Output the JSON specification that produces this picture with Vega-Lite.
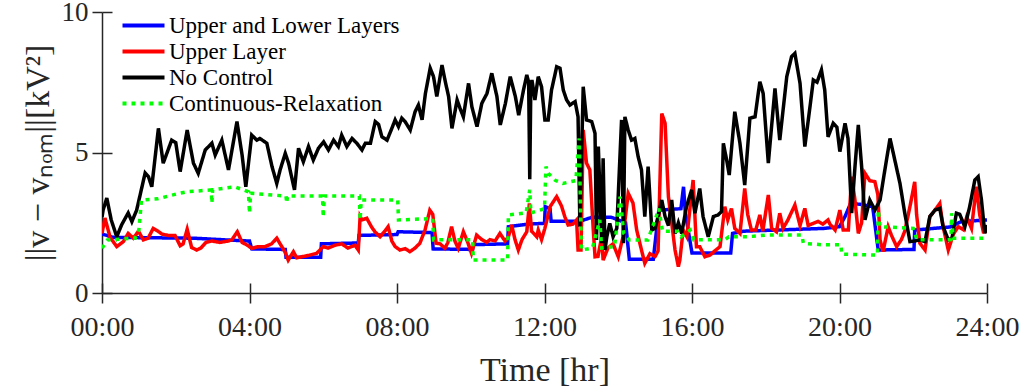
{
  "$schema": "https://vega.github.io/schema/vega-lite/v6.json",
  "width": 885,
  "height": 281,
  "autosize": {"type": "none"},
  "padding": {"left": 102, "top": 12, "right": 44, "bottom": 97},
  "background": "white",
  "config": {
    "view": {"stroke": null},
    "font": "Liberation Serif",
    "axis": {"domainColor": "#262626", "domainWidth": 1.5, "tickColor": "#262626", "tickWidth": 1.5, "labelColor": "#262626", "titleColor": "#262626", "grid": false, "labelFont": "Liberation Serif", "titleFont": "Liberation Serif", "titleFontWeight": "normal", "labelFlush": false}
  },
  "data": {"values": [
    {"series": "Upper and Lower Layers", "t": 0.0, "v": 2.1},
    {"series": "Upper and Lower Layers", "t": 0.3, "v": 1.98},
    {"series": "Upper and Lower Layers", "t": 2.5, "v": 1.95},
    {"series": "Upper and Lower Layers", "t": 3.5, "v": 1.88},
    {"series": "Upper and Lower Layers", "t": 4.0, "v": 1.85},
    {"series": "Upper and Lower Layers", "t": 4.06, "v": 1.57},
    {"series": "Upper and Lower Layers", "t": 4.97, "v": 1.55},
    {"series": "Upper and Lower Layers", "t": 4.99, "v": 1.27},
    {"series": "Upper and Lower Layers", "t": 5.93, "v": 1.27},
    {"series": "Upper and Lower Layers", "t": 5.95, "v": 1.75},
    {"series": "Upper and Lower Layers", "t": 6.95, "v": 1.78},
    {"series": "Upper and Lower Layers", "t": 6.97, "v": 2.05},
    {"series": "Upper and Lower Layers", "t": 8.0, "v": 2.08},
    {"series": "Upper and Lower Layers", "t": 8.03, "v": 2.18},
    {"series": "Upper and Lower Layers", "t": 8.95, "v": 2.15},
    {"series": "Upper and Lower Layers", "t": 8.98, "v": 1.57},
    {"series": "Upper and Lower Layers", "t": 10.05, "v": 1.55},
    {"series": "Upper and Lower Layers", "t": 10.07, "v": 1.72},
    {"series": "Upper and Lower Layers", "t": 11.0, "v": 1.75},
    {"series": "Upper and Lower Layers", "t": 11.02, "v": 2.36},
    {"series": "Upper and Lower Layers", "t": 11.55, "v": 2.45},
    {"series": "Upper and Lower Layers", "t": 12.0, "v": 2.48},
    {"series": "Upper and Lower Layers", "t": 12.02, "v": 3.07},
    {"series": "Upper and Lower Layers", "t": 12.15, "v": 3.0},
    {"series": "Upper and Lower Layers", "t": 12.18, "v": 2.55},
    {"series": "Upper and Lower Layers", "t": 12.95, "v": 2.55},
    {"series": "Upper and Lower Layers", "t": 13.3, "v": 2.7},
    {"series": "Upper and Lower Layers", "t": 13.8, "v": 2.7},
    {"series": "Upper and Lower Layers", "t": 14.2, "v": 2.5},
    {"series": "Upper and Lower Layers", "t": 14.3, "v": 1.2},
    {"series": "Upper and Lower Layers", "t": 14.95, "v": 1.2},
    {"series": "Upper and Lower Layers", "t": 15.1, "v": 2.95},
    {"series": "Upper and Lower Layers", "t": 15.7, "v": 3.0},
    {"series": "Upper and Lower Layers", "t": 15.77, "v": 3.78},
    {"series": "Upper and Lower Layers", "t": 15.82, "v": 2.84},
    {"series": "Upper and Lower Layers", "t": 16.0, "v": 1.42},
    {"series": "Upper and Lower Layers", "t": 17.05, "v": 1.42},
    {"series": "Upper and Lower Layers", "t": 17.1, "v": 2.12},
    {"series": "Upper and Lower Layers", "t": 17.4, "v": 2.2},
    {"series": "Upper and Lower Layers", "t": 19.6, "v": 2.3},
    {"series": "Upper and Lower Layers", "t": 20.0, "v": 2.36},
    {"series": "Upper and Lower Layers", "t": 20.15, "v": 2.72},
    {"series": "Upper and Lower Layers", "t": 20.3, "v": 3.19},
    {"series": "Upper and Lower Layers", "t": 20.6, "v": 3.15},
    {"series": "Upper and Lower Layers", "t": 20.9, "v": 3.07},
    {"series": "Upper and Lower Layers", "t": 21.05, "v": 1.53},
    {"series": "Upper and Lower Layers", "t": 22.02, "v": 1.55},
    {"series": "Upper and Lower Layers", "t": 22.04, "v": 2.24},
    {"series": "Upper and Lower Layers", "t": 23.0, "v": 2.35},
    {"series": "Upper and Lower Layers", "t": 23.3, "v": 2.54},
    {"series": "Upper and Lower Layers", "t": 24.0, "v": 2.6},

    {"series": "Upper Layer", "t": 0.0, "v": 2.12},
    {"series": "Upper Layer", "t": 0.08, "v": 2.67},
    {"series": "Upper Layer", "t": 0.22, "v": 1.98},
    {"series": "Upper Layer", "t": 0.4, "v": 1.65},
    {"series": "Upper Layer", "t": 0.58, "v": 1.83},
    {"series": "Upper Layer", "t": 0.71, "v": 2.12},
    {"series": "Upper Layer", "t": 0.85, "v": 1.95},
    {"series": "Upper Layer", "t": 0.99, "v": 2.2},
    {"series": "Upper Layer", "t": 1.12, "v": 1.89},
    {"series": "Upper Layer", "t": 1.25, "v": 1.95},
    {"series": "Upper Layer", "t": 1.39, "v": 2.3},
    {"series": "Upper Layer", "t": 1.52, "v": 2.2},
    {"series": "Upper Layer", "t": 1.62, "v": 2.1},
    {"series": "Upper Layer", "t": 1.79, "v": 2.05},
    {"series": "Upper Layer", "t": 1.98, "v": 2.05},
    {"series": "Upper Layer", "t": 2.12, "v": 1.68},
    {"series": "Upper Layer", "t": 2.2, "v": 1.75},
    {"series": "Upper Layer", "t": 2.31, "v": 2.27},
    {"series": "Upper Layer", "t": 2.43, "v": 1.62},
    {"series": "Upper Layer", "t": 2.57, "v": 1.53},
    {"series": "Upper Layer", "t": 2.68, "v": 1.6},
    {"series": "Upper Layer", "t": 2.82, "v": 1.8},
    {"series": "Upper Layer", "t": 2.98, "v": 1.85},
    {"series": "Upper Layer", "t": 3.2, "v": 1.8},
    {"series": "Upper Layer", "t": 3.42, "v": 1.85},
    {"series": "Upper Layer", "t": 3.52, "v": 1.89},
    {"series": "Upper Layer", "t": 3.67, "v": 2.18},
    {"series": "Upper Layer", "t": 3.8, "v": 1.8},
    {"series": "Upper Layer", "t": 3.93, "v": 1.71},
    {"series": "Upper Layer", "t": 4.06, "v": 1.59},
    {"series": "Upper Layer", "t": 4.23, "v": 1.65},
    {"series": "Upper Layer", "t": 4.42, "v": 1.65},
    {"series": "Upper Layer", "t": 4.6, "v": 1.75},
    {"series": "Upper Layer", "t": 4.74, "v": 1.95},
    {"series": "Upper Layer", "t": 4.83, "v": 1.75},
    {"series": "Upper Layer", "t": 4.96, "v": 1.47},
    {"series": "Upper Layer", "t": 5.05, "v": 1.17},
    {"series": "Upper Layer", "t": 5.19, "v": 1.47},
    {"series": "Upper Layer", "t": 5.28, "v": 1.25},
    {"series": "Upper Layer", "t": 5.46, "v": 1.3},
    {"series": "Upper Layer", "t": 5.64, "v": 1.35},
    {"series": "Upper Layer", "t": 5.82, "v": 1.41},
    {"series": "Upper Layer", "t": 6.0, "v": 1.65},
    {"series": "Upper Layer", "t": 6.13, "v": 1.6},
    {"series": "Upper Layer", "t": 6.32, "v": 1.7},
    {"series": "Upper Layer", "t": 6.5, "v": 1.75},
    {"series": "Upper Layer", "t": 6.67, "v": 1.6},
    {"series": "Upper Layer", "t": 6.86, "v": 1.7},
    {"series": "Upper Layer", "t": 6.95, "v": 1.53},
    {"series": "Upper Layer", "t": 7.0, "v": 2.72},
    {"series": "Upper Layer", "t": 7.05, "v": 2.6},
    {"series": "Upper Layer", "t": 7.18, "v": 2.66},
    {"series": "Upper Layer", "t": 7.31, "v": 2.35},
    {"series": "Upper Layer", "t": 7.4, "v": 2.18},
    {"series": "Upper Layer", "t": 7.54, "v": 2.0},
    {"series": "Upper Layer", "t": 7.67, "v": 2.2},
    {"series": "Upper Layer", "t": 7.76, "v": 2.36},
    {"series": "Upper Layer", "t": 7.86, "v": 1.85},
    {"series": "Upper Layer", "t": 7.95, "v": 1.65},
    {"series": "Upper Layer", "t": 8.08, "v": 1.53},
    {"series": "Upper Layer", "t": 8.22, "v": 1.58},
    {"series": "Upper Layer", "t": 8.35, "v": 1.47},
    {"series": "Upper Layer", "t": 8.49, "v": 1.6},
    {"series": "Upper Layer", "t": 8.62, "v": 1.77},
    {"series": "Upper Layer", "t": 8.76, "v": 2.24},
    {"series": "Upper Layer", "t": 8.89, "v": 2.95},
    {"series": "Upper Layer", "t": 8.97, "v": 2.8},
    {"series": "Upper Layer", "t": 9.06, "v": 1.77},
    {"series": "Upper Layer", "t": 9.17, "v": 1.75},
    {"series": "Upper Layer", "t": 9.3, "v": 1.59},
    {"series": "Upper Layer", "t": 9.38, "v": 1.8},
    {"series": "Upper Layer", "t": 9.48, "v": 2.36},
    {"series": "Upper Layer", "t": 9.57, "v": 1.85},
    {"series": "Upper Layer", "t": 9.66, "v": 1.59},
    {"series": "Upper Layer", "t": 9.8, "v": 2.18},
    {"series": "Upper Layer", "t": 9.92, "v": 1.8},
    {"series": "Upper Layer", "t": 10.02, "v": 1.41},
    {"series": "Upper Layer", "t": 10.16, "v": 2.06},
    {"series": "Upper Layer", "t": 10.3, "v": 1.9},
    {"series": "Upper Layer", "t": 10.43, "v": 1.8},
    {"series": "Upper Layer", "t": 10.52, "v": 1.9},
    {"series": "Upper Layer", "t": 10.66, "v": 1.85},
    {"series": "Upper Layer", "t": 10.79, "v": 2.12},
    {"series": "Upper Layer", "t": 10.93, "v": 1.85},
    {"series": "Upper Layer", "t": 11.02, "v": 2.0},
    {"series": "Upper Layer", "t": 11.11, "v": 2.42},
    {"series": "Upper Layer", "t": 11.2, "v": 1.9},
    {"series": "Upper Layer", "t": 11.29, "v": 1.53},
    {"series": "Upper Layer", "t": 11.39, "v": 1.9},
    {"series": "Upper Layer", "t": 11.52, "v": 2.18},
    {"series": "Upper Layer", "t": 11.59, "v": 3.19},
    {"series": "Upper Layer", "t": 11.65, "v": 2.2},
    {"series": "Upper Layer", "t": 11.79, "v": 2.0},
    {"series": "Upper Layer", "t": 11.83, "v": 2.24},
    {"series": "Upper Layer", "t": 11.92, "v": 1.9},
    {"series": "Upper Layer", "t": 12.01, "v": 2.3},
    {"series": "Upper Layer", "t": 12.15, "v": 3.07},
    {"series": "Upper Layer", "t": 12.33, "v": 3.43},
    {"series": "Upper Layer", "t": 12.46, "v": 3.1},
    {"series": "Upper Layer", "t": 12.55, "v": 2.72},
    {"series": "Upper Layer", "t": 12.64, "v": 2.42},
    {"series": "Upper Layer", "t": 12.77, "v": 2.45},
    {"series": "Upper Layer", "t": 12.87, "v": 2.6},
    {"series": "Upper Layer", "t": 12.91, "v": 1.53},
    {"series": "Upper Layer", "t": 12.99, "v": 1.53},
    {"series": "Upper Layer", "t": 13.05, "v": 5.8},
    {"series": "Upper Layer", "t": 13.14, "v": 4.62},
    {"series": "Upper Layer", "t": 13.23, "v": 4.38},
    {"series": "Upper Layer", "t": 13.32, "v": 2.3},
    {"series": "Upper Layer", "t": 13.37, "v": 1.29},
    {"series": "Upper Layer", "t": 13.45, "v": 1.3},
    {"series": "Upper Layer", "t": 13.55, "v": 2.0},
    {"series": "Upper Layer", "t": 13.59, "v": 1.17},
    {"series": "Upper Layer", "t": 13.72, "v": 1.6},
    {"series": "Upper Layer", "t": 13.86, "v": 1.75},
    {"series": "Upper Layer", "t": 14.0, "v": 1.29},
    {"series": "Upper Layer", "t": 14.13, "v": 2.0},
    {"series": "Upper Layer", "t": 14.27, "v": 3.55},
    {"series": "Upper Layer", "t": 14.4, "v": 3.2},
    {"series": "Upper Layer", "t": 14.5, "v": 2.24},
    {"series": "Upper Layer", "t": 14.63, "v": 1.53},
    {"series": "Upper Layer", "t": 14.72, "v": 1.06},
    {"series": "Upper Layer", "t": 14.86, "v": 1.4},
    {"series": "Upper Layer", "t": 15.0, "v": 1.3},
    {"series": "Upper Layer", "t": 15.08, "v": 1.5},
    {"series": "Upper Layer", "t": 15.18, "v": 6.39},
    {"series": "Upper Layer", "t": 15.27, "v": 6.04},
    {"series": "Upper Layer", "t": 15.36, "v": 3.43},
    {"series": "Upper Layer", "t": 15.45, "v": 2.5},
    {"series": "Upper Layer", "t": 15.54, "v": 1.53},
    {"series": "Upper Layer", "t": 15.63, "v": 0.94},
    {"series": "Upper Layer", "t": 15.67, "v": 1.17},
    {"series": "Upper Layer", "t": 15.76, "v": 2.24},
    {"series": "Upper Layer", "t": 15.86, "v": 2.0},
    {"series": "Upper Layer", "t": 16.03, "v": 4.02},
    {"series": "Upper Layer", "t": 16.12, "v": 1.65},
    {"series": "Upper Layer", "t": 16.21, "v": 1.65},
    {"series": "Upper Layer", "t": 16.35, "v": 1.29},
    {"series": "Upper Layer", "t": 16.49, "v": 1.35},
    {"series": "Upper Layer", "t": 16.62, "v": 1.5},
    {"series": "Upper Layer", "t": 16.76, "v": 1.65},
    {"series": "Upper Layer", "t": 16.89, "v": 3.07},
    {"series": "Upper Layer", "t": 16.97, "v": 2.6},
    {"series": "Upper Layer", "t": 17.07, "v": 3.01},
    {"series": "Upper Layer", "t": 17.16, "v": 2.3},
    {"series": "Upper Layer", "t": 17.3, "v": 2.12},
    {"series": "Upper Layer", "t": 17.43, "v": 3.72},
    {"series": "Upper Layer", "t": 17.51, "v": 2.8},
    {"series": "Upper Layer", "t": 17.61, "v": 2.24},
    {"series": "Upper Layer", "t": 17.73, "v": 2.24},
    {"series": "Upper Layer", "t": 17.84, "v": 2.78},
    {"series": "Upper Layer", "t": 17.92, "v": 2.2},
    {"series": "Upper Layer", "t": 18.07, "v": 3.49},
    {"series": "Upper Layer", "t": 18.16, "v": 2.3},
    {"series": "Upper Layer", "t": 18.29, "v": 2.18},
    {"series": "Upper Layer", "t": 18.38, "v": 2.84},
    {"series": "Upper Layer", "t": 18.47, "v": 2.3},
    {"series": "Upper Layer", "t": 18.6, "v": 2.6},
    {"series": "Upper Layer", "t": 18.79, "v": 3.13},
    {"series": "Upper Layer", "t": 18.93, "v": 2.4},
    {"series": "Upper Layer", "t": 19.06, "v": 3.01},
    {"series": "Upper Layer", "t": 19.15, "v": 2.4},
    {"series": "Upper Layer", "t": 19.29, "v": 2.48},
    {"series": "Upper Layer", "t": 19.42, "v": 2.55},
    {"series": "Upper Layer", "t": 19.55, "v": 2.45},
    {"series": "Upper Layer", "t": 19.69, "v": 2.6},
    {"series": "Upper Layer", "t": 19.74, "v": 2.45},
    {"series": "Upper Layer", "t": 19.88, "v": 2.24},
    {"series": "Upper Layer", "t": 20.01, "v": 2.95},
    {"series": "Upper Layer", "t": 20.1, "v": 2.24},
    {"series": "Upper Layer", "t": 20.24, "v": 2.24},
    {"series": "Upper Layer", "t": 20.33, "v": 4.14},
    {"series": "Upper Layer", "t": 20.42, "v": 3.3},
    {"series": "Upper Layer", "t": 20.51, "v": 2.12},
    {"series": "Upper Layer", "t": 20.6, "v": 2.5},
    {"series": "Upper Layer", "t": 20.69, "v": 4.26},
    {"series": "Upper Layer", "t": 20.82, "v": 4.0},
    {"series": "Upper Layer", "t": 20.96, "v": 3.96},
    {"series": "Upper Layer", "t": 21.04, "v": 3.5},
    {"series": "Upper Layer", "t": 21.1, "v": 1.89},
    {"series": "Upper Layer", "t": 21.18, "v": 1.47},
    {"series": "Upper Layer", "t": 21.32, "v": 2.36},
    {"series": "Upper Layer", "t": 21.41, "v": 2.05},
    {"series": "Upper Layer", "t": 21.55, "v": 1.65},
    {"series": "Upper Layer", "t": 21.68, "v": 1.9},
    {"series": "Upper Layer", "t": 21.77, "v": 2.2},
    {"series": "Upper Layer", "t": 21.91, "v": 3.07},
    {"series": "Upper Layer", "t": 22.04, "v": 3.96},
    {"series": "Upper Layer", "t": 22.09, "v": 2.8},
    {"series": "Upper Layer", "t": 22.18, "v": 1.77},
    {"series": "Upper Layer", "t": 22.32, "v": 1.53},
    {"series": "Upper Layer", "t": 22.45, "v": 2.72},
    {"series": "Upper Layer", "t": 22.59, "v": 2.95},
    {"series": "Upper Layer", "t": 22.72, "v": 3.19},
    {"series": "Upper Layer", "t": 22.81, "v": 2.36},
    {"series": "Upper Layer", "t": 22.95, "v": 1.53},
    {"series": "Upper Layer", "t": 23.09, "v": 2.1},
    {"series": "Upper Layer", "t": 23.22, "v": 2.36},
    {"series": "Upper Layer", "t": 23.36, "v": 2.25},
    {"series": "Upper Layer", "t": 23.45, "v": 2.7},
    {"series": "Upper Layer", "t": 23.58, "v": 2.3},
    {"series": "Upper Layer", "t": 23.71, "v": 3.78},
    {"series": "Upper Layer", "t": 23.8, "v": 2.8},
    {"series": "Upper Layer", "t": 23.9, "v": 2.18},
    {"series": "Upper Layer", "t": 24.0, "v": 2.2},

    {"series": "No Control", "t": 0.0, "v": 2.7},
    {"series": "No Control", "t": 0.03, "v": 2.95},
    {"series": "No Control", "t": 0.13, "v": 3.38},
    {"series": "No Control", "t": 0.25, "v": 2.6},
    {"series": "No Control", "t": 0.4, "v": 2.0},
    {"series": "No Control", "t": 0.53, "v": 2.42},
    {"series": "No Control", "t": 0.71, "v": 2.85},
    {"series": "No Control", "t": 0.81, "v": 2.54},
    {"series": "No Control", "t": 0.94, "v": 2.95},
    {"series": "No Control", "t": 1.17, "v": 4.27},
    {"series": "No Control", "t": 1.26, "v": 4.14},
    {"series": "No Control", "t": 1.35, "v": 3.78},
    {"series": "No Control", "t": 1.53, "v": 5.86},
    {"series": "No Control", "t": 1.66, "v": 4.62},
    {"series": "No Control", "t": 1.89, "v": 5.44},
    {"series": "No Control", "t": 2.0, "v": 5.35},
    {"series": "No Control", "t": 2.12, "v": 4.32},
    {"series": "No Control", "t": 2.31, "v": 5.8},
    {"series": "No Control", "t": 2.48, "v": 4.62},
    {"series": "No Control", "t": 2.61, "v": 4.26},
    {"series": "No Control", "t": 2.8, "v": 5.09},
    {"series": "No Control", "t": 2.98, "v": 5.33},
    {"series": "No Control", "t": 3.07, "v": 4.91},
    {"series": "No Control", "t": 3.25, "v": 5.44},
    {"series": "No Control", "t": 3.43, "v": 4.38},
    {"series": "No Control", "t": 3.66, "v": 6.1},
    {"series": "No Control", "t": 3.8, "v": 4.9},
    {"series": "No Control", "t": 3.9, "v": 3.78},
    {"series": "No Control", "t": 4.06, "v": 5.62},
    {"series": "No Control", "t": 4.2, "v": 5.44},
    {"series": "No Control", "t": 4.28, "v": 5.5},
    {"series": "No Control", "t": 4.47, "v": 5.33},
    {"series": "No Control", "t": 4.61, "v": 4.5},
    {"series": "No Control", "t": 4.74, "v": 3.9},
    {"series": "No Control", "t": 4.83, "v": 4.38},
    {"series": "No Control", "t": 4.97, "v": 4.97},
    {"series": "No Control", "t": 5.06, "v": 4.62},
    {"series": "No Control", "t": 5.22, "v": 3.67},
    {"series": "No Control", "t": 5.33, "v": 5.15},
    {"series": "No Control", "t": 5.46, "v": 4.67},
    {"series": "No Control", "t": 5.6, "v": 5.21},
    {"series": "No Control", "t": 5.73, "v": 4.73},
    {"series": "No Control", "t": 5.87, "v": 5.15},
    {"series": "No Control", "t": 6.01, "v": 5.38},
    {"series": "No Control", "t": 6.14, "v": 5.09},
    {"series": "No Control", "t": 6.28, "v": 5.44},
    {"series": "No Control", "t": 6.41, "v": 5.21},
    {"series": "No Control", "t": 6.5, "v": 5.62},
    {"series": "No Control", "t": 6.64, "v": 5.21},
    {"series": "No Control", "t": 6.78, "v": 5.5},
    {"series": "No Control", "t": 6.91, "v": 5.33},
    {"series": "No Control", "t": 7.05, "v": 5.09},
    {"series": "No Control", "t": 7.14, "v": 5.33},
    {"series": "No Control", "t": 7.28, "v": 5.33},
    {"series": "No Control", "t": 7.41, "v": 6.1},
    {"series": "No Control", "t": 7.5, "v": 6.0},
    {"series": "No Control", "t": 7.59, "v": 5.56},
    {"series": "No Control", "t": 7.73, "v": 5.44},
    {"series": "No Control", "t": 7.86, "v": 5.86},
    {"series": "No Control", "t": 7.95, "v": 6.16},
    {"series": "No Control", "t": 8.04, "v": 5.92},
    {"series": "No Control", "t": 8.13, "v": 6.22},
    {"series": "No Control", "t": 8.22, "v": 6.1},
    {"series": "No Control", "t": 8.36, "v": 5.8},
    {"series": "No Control", "t": 8.49, "v": 6.45},
    {"series": "No Control", "t": 8.58, "v": 6.69},
    {"series": "No Control", "t": 8.68, "v": 6.16},
    {"series": "No Control", "t": 8.77, "v": 7.1},
    {"series": "No Control", "t": 8.9, "v": 8.0},
    {"series": "No Control", "t": 8.99, "v": 7.7},
    {"series": "No Control", "t": 9.08, "v": 6.99},
    {"series": "No Control", "t": 9.22, "v": 8.11},
    {"series": "No Control", "t": 9.31, "v": 7.52},
    {"series": "No Control", "t": 9.4, "v": 6.99},
    {"series": "No Control", "t": 9.49, "v": 5.86},
    {"series": "No Control", "t": 9.63, "v": 6.87},
    {"series": "No Control", "t": 9.71, "v": 6.57},
    {"series": "No Control", "t": 9.8, "v": 6.27},
    {"series": "No Control", "t": 9.94, "v": 7.46},
    {"series": "No Control", "t": 10.03, "v": 6.63},
    {"series": "No Control", "t": 10.17, "v": 5.92},
    {"series": "No Control", "t": 10.3, "v": 6.75},
    {"series": "No Control", "t": 10.44, "v": 7.1},
    {"series": "No Control", "t": 10.57, "v": 7.82},
    {"series": "No Control", "t": 10.71, "v": 6.99},
    {"series": "No Control", "t": 10.8, "v": 5.98},
    {"series": "No Control", "t": 10.94, "v": 6.75},
    {"series": "No Control", "t": 11.07, "v": 7.7},
    {"series": "No Control", "t": 11.21, "v": 6.99},
    {"series": "No Control", "t": 11.3, "v": 6.33},
    {"series": "No Control", "t": 11.43, "v": 7.22},
    {"series": "No Control", "t": 11.52, "v": 7.76},
    {"series": "No Control", "t": 11.57, "v": 7.5},
    {"series": "No Control", "t": 11.6, "v": 4.05},
    {"series": "No Control", "t": 11.63, "v": 7.4},
    {"series": "No Control", "t": 11.66, "v": 7.58},
    {"series": "No Control", "t": 11.74, "v": 6.87},
    {"series": "No Control", "t": 11.83, "v": 7.7},
    {"series": "No Control", "t": 11.92, "v": 7.34},
    {"series": "No Control", "t": 12.01, "v": 6.16},
    {"series": "No Control", "t": 12.1, "v": 6.16},
    {"series": "No Control", "t": 12.19, "v": 7.22},
    {"series": "No Control", "t": 12.33, "v": 8.05},
    {"series": "No Control", "t": 12.42, "v": 8.0},
    {"series": "No Control", "t": 12.51, "v": 7.22},
    {"series": "No Control", "t": 12.6, "v": 6.87},
    {"series": "No Control", "t": 12.69, "v": 6.69},
    {"series": "No Control", "t": 12.83, "v": 6.81},
    {"series": "No Control", "t": 12.91, "v": 6.27},
    {"series": "No Control", "t": 12.96, "v": 2.36},
    {"series": "No Control", "t": 13.05, "v": 7.34},
    {"series": "No Control", "t": 13.14, "v": 6.16},
    {"series": "No Control", "t": 13.28, "v": 6.1},
    {"series": "No Control", "t": 13.37, "v": 5.68},
    {"series": "No Control", "t": 13.41, "v": 1.89},
    {"series": "No Control", "t": 13.46, "v": 5.21},
    {"series": "No Control", "t": 13.55, "v": 1.77},
    {"series": "No Control", "t": 13.59, "v": 4.79},
    {"series": "No Control", "t": 13.64, "v": 1.53},
    {"series": "No Control", "t": 13.69, "v": 2.0},
    {"series": "No Control", "t": 13.77, "v": 2.48},
    {"series": "No Control", "t": 13.86, "v": 2.0},
    {"series": "No Control", "t": 13.96, "v": 2.3},
    {"series": "No Control", "t": 14.09, "v": 6.16},
    {"series": "No Control", "t": 14.14, "v": 1.77},
    {"series": "No Control", "t": 14.18, "v": 6.27},
    {"series": "No Control", "t": 14.27, "v": 5.8},
    {"series": "No Control", "t": 14.36, "v": 5.44},
    {"series": "No Control", "t": 14.45, "v": 5.5},
    {"series": "No Control", "t": 14.54, "v": 4.85},
    {"series": "No Control", "t": 14.63, "v": 4.38},
    {"series": "No Control", "t": 14.72, "v": 2.72},
    {"series": "No Control", "t": 14.81, "v": 4.5},
    {"series": "No Control", "t": 14.91, "v": 2.24},
    {"series": "No Control", "t": 15.0, "v": 2.3},
    {"series": "No Control", "t": 15.08, "v": 2.72},
    {"series": "No Control", "t": 15.18, "v": 3.31},
    {"series": "No Control", "t": 15.27, "v": 2.72},
    {"series": "No Control", "t": 15.36, "v": 2.4},
    {"series": "No Control", "t": 15.45, "v": 3.31},
    {"series": "No Control", "t": 15.54, "v": 2.12},
    {"series": "No Control", "t": 15.63, "v": 2.5},
    {"series": "No Control", "t": 15.72, "v": 2.12},
    {"series": "No Control", "t": 15.85, "v": 3.07},
    {"series": "No Control", "t": 15.99, "v": 3.67},
    {"series": "No Control", "t": 16.08, "v": 2.84},
    {"series": "No Control", "t": 16.21, "v": 3.72},
    {"series": "No Control", "t": 16.3, "v": 2.72},
    {"series": "No Control", "t": 16.44, "v": 2.0},
    {"series": "No Control", "t": 16.58, "v": 2.72},
    {"series": "No Control", "t": 16.71, "v": 2.78},
    {"series": "No Control", "t": 16.8, "v": 2.9},
    {"series": "No Control", "t": 16.85, "v": 5.33},
    {"series": "No Control", "t": 16.94, "v": 4.73},
    {"series": "No Control", "t": 17.01, "v": 4.2},
    {"series": "No Control", "t": 17.16, "v": 6.45},
    {"series": "No Control", "t": 17.3, "v": 5.33},
    {"series": "No Control", "t": 17.43, "v": 3.84},
    {"series": "No Control", "t": 17.57, "v": 6.22},
    {"series": "No Control", "t": 17.71, "v": 6.27},
    {"series": "No Control", "t": 17.84, "v": 7.52},
    {"series": "No Control", "t": 17.93, "v": 7.1},
    {"series": "No Control", "t": 18.07, "v": 4.62},
    {"series": "No Control", "t": 18.25, "v": 7.28},
    {"series": "No Control", "t": 18.38, "v": 5.44},
    {"series": "No Control", "t": 18.57, "v": 7.7},
    {"series": "No Control", "t": 18.7, "v": 8.41},
    {"series": "No Control", "t": 18.79, "v": 8.53},
    {"series": "No Control", "t": 18.93, "v": 7.46},
    {"series": "No Control", "t": 19.06, "v": 5.21},
    {"series": "No Control", "t": 19.2, "v": 6.63},
    {"series": "No Control", "t": 19.29, "v": 7.58},
    {"series": "No Control", "t": 19.39, "v": 7.5},
    {"series": "No Control", "t": 19.51, "v": 7.94},
    {"series": "No Control", "t": 19.6, "v": 7.22},
    {"series": "No Control", "t": 19.69, "v": 5.56},
    {"series": "No Control", "t": 19.83, "v": 6.04},
    {"series": "No Control", "t": 19.93, "v": 5.9},
    {"series": "No Control", "t": 20.01, "v": 5.03},
    {"series": "No Control", "t": 20.15, "v": 6.04},
    {"series": "No Control", "t": 20.23, "v": 5.5},
    {"series": "No Control", "t": 20.33, "v": 2.84},
    {"series": "No Control", "t": 20.42, "v": 4.5},
    {"series": "No Control", "t": 20.51, "v": 5.98},
    {"series": "No Control", "t": 20.6, "v": 4.5},
    {"series": "No Control", "t": 20.69, "v": 2.6},
    {"series": "No Control", "t": 20.82, "v": 3.31},
    {"series": "No Control", "t": 20.96, "v": 2.95},
    {"series": "No Control", "t": 21.1, "v": 3.31},
    {"series": "No Control", "t": 21.23, "v": 4.38},
    {"series": "No Control", "t": 21.37, "v": 5.5},
    {"series": "No Control", "t": 21.5, "v": 4.73},
    {"series": "No Control", "t": 21.64, "v": 3.9},
    {"series": "No Control", "t": 21.77, "v": 2.84},
    {"series": "No Control", "t": 21.91, "v": 1.83},
    {"series": "No Control", "t": 22.04, "v": 1.85},
    {"series": "No Control", "t": 22.18, "v": 1.89},
    {"series": "No Control", "t": 22.32, "v": 1.83},
    {"series": "No Control", "t": 22.45, "v": 2.72},
    {"series": "No Control", "t": 22.59, "v": 2.95},
    {"series": "No Control", "t": 22.72, "v": 3.01},
    {"series": "No Control", "t": 22.81, "v": 2.36},
    {"series": "No Control", "t": 22.95, "v": 1.89},
    {"series": "No Control", "t": 23.05, "v": 1.95},
    {"series": "No Control", "t": 23.17, "v": 2.84},
    {"series": "No Control", "t": 23.26, "v": 2.8},
    {"series": "No Control", "t": 23.4, "v": 2.36},
    {"series": "No Control", "t": 23.53, "v": 3.07},
    {"series": "No Control", "t": 23.67, "v": 4.02},
    {"series": "No Control", "t": 23.76, "v": 4.14},
    {"series": "No Control", "t": 23.85, "v": 3.31},
    {"series": "No Control", "t": 23.94, "v": 2.12},
    {"series": "No Control", "t": 24.0, "v": 2.42},

    {"series": "Continuous-Relaxation", "t": 0.0, "v": 1.59},
    {"series": "Continuous-Relaxation", "t": 0.15, "v": 1.89},
    {"series": "Continuous-Relaxation", "t": 0.9, "v": 1.95},
    {"series": "Continuous-Relaxation", "t": 1.0, "v": 2.24},
    {"series": "Continuous-Relaxation", "t": 1.07, "v": 3.31},
    {"series": "Continuous-Relaxation", "t": 1.5, "v": 3.35},
    {"series": "Continuous-Relaxation", "t": 2.1, "v": 3.55},
    {"series": "Continuous-Relaxation", "t": 2.3, "v": 3.6},
    {"series": "Continuous-Relaxation", "t": 2.96, "v": 3.67},
    {"series": "Continuous-Relaxation", "t": 2.98, "v": 3.2},
    {"series": "Continuous-Relaxation", "t": 3.0, "v": 3.67},
    {"series": "Continuous-Relaxation", "t": 3.6, "v": 3.78},
    {"series": "Continuous-Relaxation", "t": 3.97, "v": 3.6},
    {"series": "Continuous-Relaxation", "t": 4.0, "v": 2.84},
    {"series": "Continuous-Relaxation", "t": 4.03, "v": 3.55},
    {"series": "Continuous-Relaxation", "t": 4.5, "v": 3.5},
    {"series": "Continuous-Relaxation", "t": 4.99, "v": 3.45},
    {"series": "Continuous-Relaxation", "t": 5.01, "v": 3.2},
    {"series": "Continuous-Relaxation", "t": 5.03, "v": 3.45},
    {"series": "Continuous-Relaxation", "t": 5.98, "v": 3.45},
    {"series": "Continuous-Relaxation", "t": 6.0, "v": 2.7},
    {"series": "Continuous-Relaxation", "t": 6.03, "v": 3.45},
    {"series": "Continuous-Relaxation", "t": 6.98, "v": 3.45},
    {"series": "Continuous-Relaxation", "t": 7.0, "v": 2.6},
    {"series": "Continuous-Relaxation", "t": 7.03, "v": 3.31},
    {"series": "Continuous-Relaxation", "t": 8.02, "v": 3.31},
    {"series": "Continuous-Relaxation", "t": 8.04, "v": 2.6},
    {"series": "Continuous-Relaxation", "t": 8.97, "v": 2.65},
    {"series": "Continuous-Relaxation", "t": 8.99, "v": 1.89},
    {"series": "Continuous-Relaxation", "t": 10.05, "v": 1.9},
    {"series": "Continuous-Relaxation", "t": 10.07, "v": 1.17},
    {"series": "Continuous-Relaxation", "t": 11.0, "v": 1.17},
    {"series": "Continuous-Relaxation", "t": 11.02, "v": 2.78},
    {"series": "Continuous-Relaxation", "t": 11.5, "v": 2.85},
    {"series": "Continuous-Relaxation", "t": 11.6, "v": 3.67},
    {"series": "Continuous-Relaxation", "t": 11.63, "v": 2.85},
    {"series": "Continuous-Relaxation", "t": 12.0, "v": 3.0},
    {"series": "Continuous-Relaxation", "t": 12.04, "v": 4.5},
    {"series": "Continuous-Relaxation", "t": 12.1, "v": 4.26},
    {"series": "Continuous-Relaxation", "t": 12.3, "v": 4.0},
    {"series": "Continuous-Relaxation", "t": 12.5, "v": 3.9},
    {"series": "Continuous-Relaxation", "t": 12.85, "v": 4.0},
    {"series": "Continuous-Relaxation", "t": 12.94, "v": 5.5},
    {"series": "Continuous-Relaxation", "t": 13.0, "v": 1.53},
    {"series": "Continuous-Relaxation", "t": 13.3, "v": 1.6},
    {"series": "Continuous-Relaxation", "t": 13.5, "v": 2.6},
    {"series": "Continuous-Relaxation", "t": 13.55, "v": 1.6},
    {"series": "Continuous-Relaxation", "t": 13.9, "v": 1.65},
    {"series": "Continuous-Relaxation", "t": 14.05, "v": 3.43},
    {"series": "Continuous-Relaxation", "t": 14.15, "v": 2.12},
    {"series": "Continuous-Relaxation", "t": 14.3, "v": 1.89},
    {"series": "Continuous-Relaxation", "t": 14.8, "v": 1.89},
    {"series": "Continuous-Relaxation", "t": 15.0, "v": 2.6},
    {"series": "Continuous-Relaxation", "t": 15.1, "v": 3.01},
    {"series": "Continuous-Relaxation", "t": 15.2, "v": 2.2},
    {"series": "Continuous-Relaxation", "t": 15.6, "v": 2.2},
    {"series": "Continuous-Relaxation", "t": 15.7, "v": 2.0},
    {"series": "Continuous-Relaxation", "t": 15.95, "v": 2.24},
    {"series": "Continuous-Relaxation", "t": 16.05, "v": 1.89},
    {"series": "Continuous-Relaxation", "t": 16.9, "v": 1.9},
    {"series": "Continuous-Relaxation", "t": 17.0, "v": 2.0},
    {"series": "Continuous-Relaxation", "t": 17.5, "v": 2.0},
    {"series": "Continuous-Relaxation", "t": 18.0, "v": 2.06},
    {"series": "Continuous-Relaxation", "t": 18.98, "v": 2.06},
    {"series": "Continuous-Relaxation", "t": 19.02, "v": 1.77},
    {"series": "Continuous-Relaxation", "t": 19.5, "v": 1.72},
    {"series": "Continuous-Relaxation", "t": 20.04, "v": 1.72},
    {"series": "Continuous-Relaxation", "t": 20.06, "v": 1.38},
    {"series": "Continuous-Relaxation", "t": 21.03, "v": 1.35},
    {"series": "Continuous-Relaxation", "t": 21.05, "v": 2.95},
    {"series": "Continuous-Relaxation", "t": 21.1, "v": 2.36},
    {"series": "Continuous-Relaxation", "t": 22.0, "v": 2.3},
    {"series": "Continuous-Relaxation", "t": 22.1, "v": 1.89},
    {"series": "Continuous-Relaxation", "t": 23.02, "v": 1.9},
    {"series": "Continuous-Relaxation", "t": 23.04, "v": 2.84},
    {"series": "Continuous-Relaxation", "t": 23.08, "v": 1.95},
    {"series": "Continuous-Relaxation", "t": 24.0, "v": 1.95}
  ]},
  "encoding": {
    "x": {"field": "t", "type": "quantitative", "scale": {"domain": [0, 24], "nice": false, "zero": false}},
    "y": {"field": "v", "type": "quantitative", "scale": {"domain": [0, 10], "nice": false}},
    "color": {"field": "series", "type": "nominal",
      "scale": {"domain": ["Upper and Lower Layers", "Upper Layer", "No Control", "Continuous-Relaxation"], "range": ["#0000ff", "#ff0000", "#000000", "#00ff00"]},
      "legend": {"title": null, "orient": "none", "legendX": 30, "legendY": 2, "padding": 0, "labelFont": "Liberation Serif", "labelFontSize": 23, "labelColor": "#000000", "labelLimit": 0, "symbolType": "M-3,0H3", "symbolSize": 196, "symbolStrokeWidth": 4, "labelOffset": 14, "rowPadding": 2}},
    "strokeDash": {"field": "series", "type": "nominal",
      "scale": {"domain": ["Upper and Lower Layers", "Upper Layer", "No Control", "Continuous-Relaxation"], "range": [[1, 0], [1, 0], [1, 0], [4, 5]]},
      "legend": {"title": null, "orient": "none", "legendX": 30, "legendY": 2, "padding": 0, "labelFont": "Liberation Serif", "labelFontSize": 23, "labelColor": "#000000", "labelLimit": 0, "symbolType": "M-3,0H3", "symbolSize": 196, "symbolStrokeWidth": 4, "labelOffset": 14, "rowPadding": 2}}
  },
  "layer": [
    {
      "transform": [{"filter": "datum.series === 'Upper and Lower Layers'"}],
      "mark": {"type": "line", "strokeWidth": 3.5, "clip": true},
      "encoding": {
        "x": {"field": "t", "type": "quantitative", "axis": {"values": [0, 4, 8, 12, 16, 20, 24], "labelExpr": "(datum.value < 10 ? '0' : '') + datum.value + ':00'", "labelFontSize": 28, "tickSize": 10, "labelPadding": 10, "title": "Time [hr]", "titleFontSize": 34, "titlePadding": 12}},
        "y": {"field": "v", "type": "quantitative", "axis": {"values": [0, 5, 10], "labelFontSize": 27, "tickSize": 10, "labelPadding": 4, "title": "||v − vₙₒₘ||[kV²]", "titleFontSize": 34, "titlePadding": 6}}
      }
    },
    {
      "transform": [{"filter": "datum.series === 'Upper Layer'"}],
      "mark": {"type": "line", "strokeWidth": 3.5, "clip": true},
      "encoding": {"x": {"field": "t", "type": "quantitative", "axis": null}, "y": {"field": "v", "type": "quantitative", "axis": null}}
    },
    {
      "transform": [{"filter": "datum.series === 'No Control'"}],
      "mark": {"type": "line", "strokeWidth": 3.5, "clip": true},
      "encoding": {"x": {"field": "t", "type": "quantitative", "axis": null}, "y": {"field": "v", "type": "quantitative", "axis": null}}
    },
    {
      "transform": [{"filter": "datum.series === 'Continuous-Relaxation'"}],
      "mark": {"type": "line", "strokeWidth": 3.5, "clip": true},
      "encoding": {
        "x": {"field": "t", "type": "quantitative", "axis": {"orient": "bottom", "values": [0, 4, 8, 12, 16, 20, 24], "tickSize": -10, "labels": false, "domain": false, "title": null}},
        "y": {"field": "v", "type": "quantitative", "axis": {"orient": "left", "values": [0, 5, 10], "tickSize": -10, "labels": false, "domain": false, "title": null}}
      }
    }
  ],
  "resolve": {"axis": {"x": "independent", "y": "independent"}}
}
